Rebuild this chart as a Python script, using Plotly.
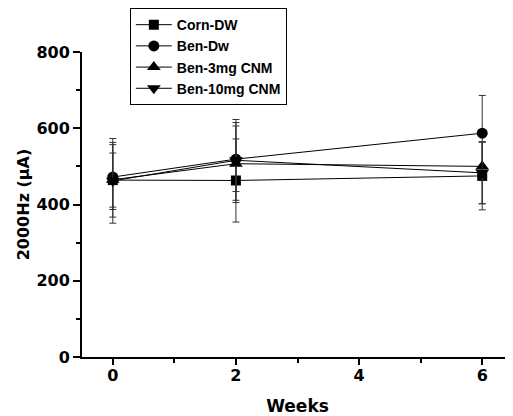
import plotly.graph_objects as go

weeks = [0, 2, 6]
series_names = ["Corn-DW", "Ben-Dw", "Ben-3mg CNM", "Ben-10mg CNM"]
symbols = ["square", "circle", "triangle-up", "triangle-down"]

corn_dw = [464, 463, 475]
ben_dw = [472, 519, 587]
ben_3mg = [465, 507, 500]
ben_10mg = [462, 516, 483]

corn_err_plus = [71, 109, 89]
corn_err_minus = [71, 109, 89]
bendw_err_plus = [85, 104, 99]
bendw_err_minus = [85, 108, 99]
ben3_err_plus = [98, 99, 64]
ben3_err_minus = [98, 102, 98]
ben10_err_plus = [111, 99, 81]
ben10_err_minus = [111, 82, 81]

values = [corn_dw, ben_dw, ben_3mg, ben_10mg]
eplus = [corn_err_plus, bendw_err_plus, ben3_err_plus, ben10_err_plus]
eminus = [corn_err_minus, bendw_err_minus, ben3_err_minus, ben10_err_minus]
msizes = [10, 11, 12, 12]

x_ticks = [0, 2, 4, 6]
y_ticks = [0, 200, 400, 600, 800]

fig = go.Figure()
for name, sym, vals, ep, em, ms in zip(series_names, symbols, values, eplus, eminus, msizes):
    fig.add_trace(go.Scatter(
        x=weeks, y=vals, name=name, mode="lines+markers",
        line=dict(color="black", width=1),
        marker=dict(symbol=sym, size=ms, color="black"),
        error_y=dict(type="data", symmetric=False, array=ep, arrayminus=em,
                     color="#333333", thickness=1, width=3.5),
    ))

fig.update_layout(
    width=513, height=416,
    margin=dict(l=74, r=8, t=44, b=67, autoexpand=False),
    paper_bgcolor="white", plot_bgcolor="white",
    showlegend=True,
    legend=dict(
        x=0.111, y=1.144, xanchor="left", yanchor="top",
        bgcolor="white", bordercolor="black", borderwidth=1,
        font=dict(family="Liberation Sans", size=14, color="black", weight="bold"),
        tracegroupgap=0, itemwidth=36,
    ),
    xaxis=dict(
        range=[-0.5, 6.5], tickvals=x_ticks, ticks="outside", ticklen=6, tickwidth=1.5,
        tickcolor="black", showline=True, linecolor="black", linewidth=2,
        showgrid=False, zeroline=False, ticklabelstandoff=-3,
        tickfont=dict(family="DejaVu Sans", size=16, color="black", weight="bold"),
        minor=dict(tickvals=[1, 3, 5], ticks="outside", ticklen=4, tickcolor="black", tickwidth=1.5),
        title=dict(text="Weeks", font=dict(family="DejaVu Sans", size=17, color="black", weight="bold"), standoff=16),
    ),
    yaxis=dict(
        range=[0, 800], tickvals=y_ticks, ticks="outside", ticklen=7, tickwidth=1.5,
        tickcolor="black", showline=True, linecolor="black", linewidth=2,
        showgrid=False, zeroline=False,
        tickfont=dict(family="DejaVu Sans", size=16, color="black", weight="bold"),
        minor=dict(tickvals=[100, 300, 500, 700], ticks="outside", ticklen=4, tickcolor="black", tickwidth=1.5),
        title=dict(text="2000Hz (μA)", font=dict(family="DejaVu Sans", size=16, color="black", weight="bold"), standoff=3),
    ),
)

fig.write_html("out.html")
